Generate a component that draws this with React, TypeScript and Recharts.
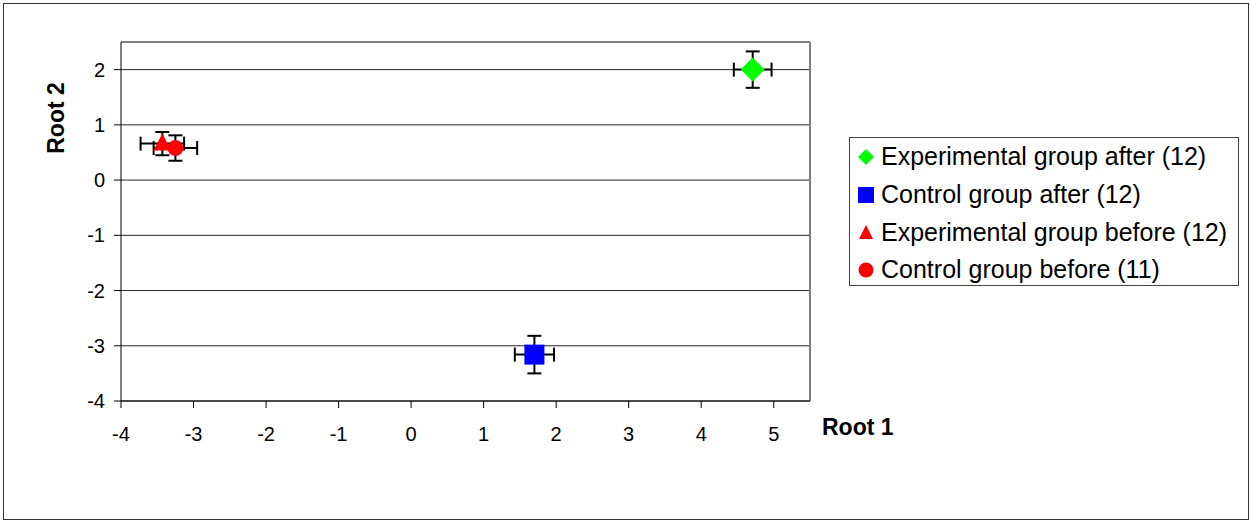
import React from "react"
import { ScatterChart, Scatter, XAxis, YAxis, CartesianGrid, ErrorBar, ReferenceLine } from "recharts"

// group names, as in the legend
const seriesNames = [
  "Experimental group after (12)",
  "Control group after (12)",
  "Experimental group before (12)",
  "Control group before (11)",
]
const seriesColors = ["#00ff00", "#0000ff", "#ff0000", "#ff0000"]

// centroid positions (root 1, root 2) and their errors
const root1 = [4.71, 1.7, -3.43, -3.25]
const root2 = [2.0, -3.16, 0.66, 0.58]
const root1Err = [0.26, 0.27, 0.3, 0.3]
const root2Err = [0.33, 0.34, 0.21, 0.23]

const xTicks = [-4, -3, -2, -1, 0, 1, 2, 3, 4, 5]
const yTicks = [-4, -3, -2, -1, 0, 1, 2]

const font = "'Liberation Sans', Arial, sans-serif"

const Diamond = (p: any) => (
  <polygon
    points={`${p.cx},${p.cy - 12} ${p.cx + 12},${p.cy} ${p.cx},${p.cy + 12} ${p.cx - 12},${p.cy}`}
    fill={seriesColors[0]}
  />
)
const Square = (p: any) => <rect x={p.cx - 10} y={p.cy - 10} width={20} height={20} fill={seriesColors[1]} />
const Triangle = (p: any) => (
  <polygon
    points={`${p.cx},${p.cy - 10} ${p.cx + 9},${p.cy + 7} ${p.cx - 9},${p.cy + 7}`}
    fill={seriesColors[2]}
  />
)
const Circle = (p: any) => <circle cx={p.cx} cy={p.cy} r={8} fill={seriesColors[3]} />

const shapes = [Diamond, Square, Triangle, Circle]

const legendIcons = [
  <polygon points="8,0 16,8 8,16 0,8" fill={seriesColors[0]} />,
  <rect x={0} y={0} width={16} height={16} fill={seriesColors[1]} />,
  <polygon points="8,1 15,15 1,15" fill={seriesColors[2]} />,
  <circle cx={8} cy={8} r={7.5} fill={seriesColors[3]} />,
]

export default function App() {
  const series = seriesNames.map((name, i) => ({
    name,
    data: [{ x: root1[i], y: root2[i], ex: root1Err[i], ey: root2Err[i] }],
  }))

  return (
    <div style={{ position: "absolute", left: 0, top: 0, width: 1250, height: 523, background: "#fff", fontFamily: font }}>
      <div
        style={{
          position: "absolute",
          left: 3,
          top: 3,
          width: 1246,
          height: 517,
          boxSizing: "border-box",
          border: "1.5px solid #333",
        }}
      />
      <div style={{ position: "absolute", left: 0, top: 0 }}>
        <ScatterChart width={1250} height={523} margin={{ top: 42, right: 440, bottom: 62, left: 0 }}>
          <CartesianGrid horizontal vertical={false} stroke="#000" strokeOpacity={0.85} />
          <XAxis
            type="number"
            dataKey="x"
            domain={[-4, 5.5]}
            ticks={xTicks}
            allowDataOverflow
            height={60}
            tickSize={7}
            tickMargin={19}
            axisLine={{ stroke: "#000" }}
            tickLine={{ stroke: "#000" }}
            tick={{ fontSize: 20, fill: "#000", fontFamily: font }}
            label={{
              content: () => (
                <text x={822} y={427} dominantBaseline="central" fontSize={23} fontWeight="bold" fill="#000" fontFamily={font}>
                  Root 1
                </text>
              ),
            }}
          />
          <YAxis
            type="number"
            dataKey="y"
            domain={[-4, 2.5]}
            ticks={yTicks}
            allowDataOverflow
            width={121}
            tickSize={7}
            tickMargin={9}
            axisLine={{ stroke: "#000" }}
            tickLine={{ stroke: "#000" }}
            tick={{ fontSize: 20, fill: "#000", fontFamily: font }}
            label={{
              content: () => (
                <text
                  x={56}
                  y={118}
                  transform="rotate(-90 56 118)"
                  textAnchor="middle"
                  dominantBaseline="central"
                  fontSize={23}
                  fontWeight="bold"
                  fill="#000"
                  fontFamily={font}
                >
                  Root 2
                </text>
              ),
            }}
          />
          <ReferenceLine y={2.5} stroke="#808080" strokeWidth={2} />
          <ReferenceLine x={5.5} stroke="#808080" strokeWidth={2} />
          {series.map((s, i) => (
            <Scatter key={s.name} name={s.name} data={s.data} shape={shapes[i]} isAnimationActive={false}>
              <ErrorBar dataKey="ex" direction="x" width={7} stroke="#000" strokeWidth={2} />
              <ErrorBar dataKey="ey" direction="y" width={7} stroke="#000" strokeWidth={2} />
            </Scatter>
          ))}
        </ScatterChart>
      </div>
      <div
        style={{
          position: "absolute",
          left: 849,
          top: 137,
          width: 390,
          height: 149,
          boxSizing: "border-box",
          border: "1px solid #444",
          padding: "0 0 0 8px",
        }}
      >
        {seriesNames.map((name, i) => (
          <div key={name} style={{ display: "flex", alignItems: "center", height: 37.7, fontSize: 25, color: "#000" }}>
            <svg width={16} height={16} style={{ marginRight: 7, flex: "none" }}>
              {legendIcons[i]}
            </svg>
            <span style={{ whiteSpace: "nowrap" }}>{name}</span>
          </div>
        ))}
      </div>
    </div>
  )
}
